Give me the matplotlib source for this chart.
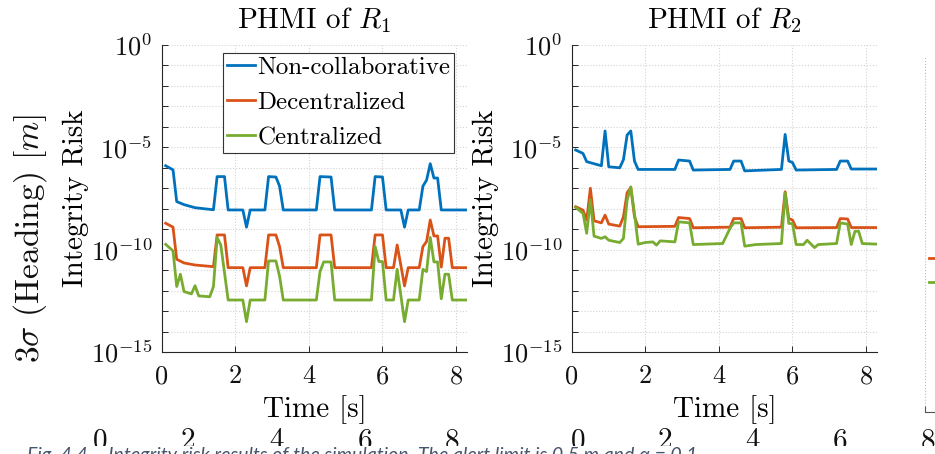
import matplotlib
matplotlib.use('Agg')
import matplotlib.pyplot as plt
from matplotlib.patches import Rectangle
import numpy as np

plt.rcParams['font.family'] = 'serif'
plt.rcParams['font.serif'] = ['cmr10', 'DejaVu Serif']
plt.rcParams['mathtext.fontset'] = 'cm'
plt.rcParams['axes.unicode_minus'] = False

# ---- data (log10 of integrity risk) ----
series_names = ['Non-collaborative', 'Decentralized', 'Centralized']
colors = ['#0072BD', '#D95319', '#77AC30']

t_r1_non = [0.1, 0.3, 0.4, 0.6, 0.9, 1.4, 1.5, 1.7, 1.8, 2.2, 2.3, 2.4, 2.8, 2.9, 3.1, 3.2,
            3.3, 4.2, 4.3, 4.6, 4.7, 5.7, 5.8, 6.0, 6.1, 6.5, 6.6, 6.7, 7.0, 7.1, 7.2, 7.3,
            7.4, 7.5, 7.6, 8.3]
lg_r1_non = [-5.9, -6.1, -7.65, -7.8, -7.95, -8.05, -6.43, -6.43, -8.06, -8.06, -8.9, -8.06,
             -8.06, -6.43, -6.45, -6.9, -8.06, -8.06, -6.43, -6.45, -8.06, -8.06, -6.43, -6.45,
             -8.06, -8.06, -8.9, -8.06, -8.06, -6.9, -6.6, -5.8, -6.5, -6.5, -8.06, -8.06]

t_r1_dec = [0.1, 0.3, 0.4, 0.6, 0.9, 1.4, 1.5, 1.7, 1.8, 2.2, 2.3, 2.4, 2.8, 2.9, 3.1, 3.2,
            3.3, 4.2, 4.3, 4.6, 4.7, 5.7, 5.8, 6.0, 6.1, 6.3, 6.4, 6.6, 6.7, 7.0, 7.1, 7.2,
            7.3, 7.4, 7.5, 7.6, 7.7, 7.8, 7.9, 8.3]
lg_r1_dec = [-8.71, -8.9, -10.47, -10.65, -10.75, -10.83, -9.28, -9.28, -10.88, -10.88, -11.77,
             -10.88, -10.88, -9.28, -9.28, -9.85, -10.88, -10.88, -9.28, -9.28, -10.88, -10.88,
             -9.28, -9.28, -10.88, -10.88, -9.77, -11.77, -10.88, -10.88, -9.85, -9.6, -8.55,
             -9.33, -9.33, -10.85, -9.44, -9.44, -10.88, -10.88]

t_r1_cen = [0.1, 0.3, 0.4, 0.5, 0.6, 0.8, 0.9, 1.0, 1.3, 1.4, 1.5, 1.6, 1.8, 2.2, 2.3, 2.4,
            2.8, 2.9, 3.1, 3.2, 3.3, 4.2, 4.3, 4.4, 4.6, 4.7, 5.7, 5.8, 5.9, 6.0, 6.1, 6.3,
            6.4, 6.6, 6.7, 7.0, 7.1, 7.2, 7.3, 7.4, 7.5, 7.6, 7.7, 7.8, 7.9, 8.3]
lg_r1_cen = [-9.74, -10.06, -11.8, -11.2, -12.05, -12.16, -11.76, -12.26, -12.3, -11.8, -9.41,
             -9.77, -12.46, -12.46, -13.52, -12.46, -12.46, -10.55, -10.55, -11.3, -12.46,
             -12.46, -11.07, -10.6, -10.6, -12.46, -12.46, -9.85, -10.58, -10.58, -12.46,
             -12.46, -10.96, -13.52, -12.46, -12.46, -10.96, -11.07, -9.4, -10.6, -10.6,
             -12.4, -11.2, -11.2, -12.46, -12.46]

t_r2_non = [0.1, 0.3, 0.4, 0.8, 0.9, 1.0, 1.3, 1.4, 1.5, 1.6, 1.7, 1.8, 2.8, 2.9, 3.2, 3.3,
            4.3, 4.4, 4.6, 4.7, 5.7, 5.8, 5.9, 6.0, 6.1, 7.2, 7.3, 7.5, 7.6, 8.3]
lg_r2_non = [-5.13, -5.3, -5.7, -5.9, -4.2, -5.95, -6.0, -5.6, -4.4, -4.2, -5.67, -6.08, -6.08,
             -5.62, -5.67, -6.11, -6.08, -5.67, -5.67, -6.15, -6.08, -4.37, -5.67, -5.74,
             -6.11, -6.08, -5.67, -5.67, -6.06, -6.06]

t_r2_dec = [0.1, 0.3, 0.4, 0.5, 0.6, 0.8, 0.9, 1.0, 1.3, 1.4, 1.5, 1.6, 1.7, 1.8, 2.8, 2.9,
            3.2, 3.3, 4.3, 4.4, 4.6, 4.7, 5.7, 5.8, 5.9, 6.0, 6.1, 7.2, 7.3, 7.5, 7.6, 8.3]
lg_r2_dec = [-7.9, -8.07, -8.56, -7.0, -8.59, -8.69, -8.31, -8.75, -8.85, -8.39, -7.22, -6.96,
             -8.39, -8.88, -8.86, -8.43, -8.48, -8.93, -8.9, -8.48, -8.48, -8.93, -8.9, -7.17,
             -8.48, -8.55, -8.93, -8.92, -8.48, -8.5, -8.92, -8.92]

t_r2_cen = [0.1, 0.3, 0.4, 0.5, 0.6, 0.8, 0.9, 1.0, 1.3, 1.4, 1.5, 1.6, 1.7, 1.8, 2.0, 2.2,
            2.3, 2.4, 2.8, 2.9, 3.2, 3.3, 4.1, 4.3, 4.4, 4.6, 4.7, 5.0, 5.7, 5.8, 5.9, 6.0,
            6.1, 6.3, 6.4, 6.6, 6.7, 7.2, 7.3, 7.5, 7.6, 7.7, 7.8, 7.9, 8.3]
lg_r2_cen = [-7.94, -8.23, -9.2, -7.55, -9.34, -9.45, -9.37, -9.54, -9.65, -9.45, -7.58, -6.93,
             -8.23, -9.73, -9.65, -9.62, -9.78, -9.57, -9.62, -8.64, -8.69, -9.75, -9.7, -8.96,
             -8.69, -8.69, -9.83, -9.75, -9.7, -7.22, -8.72, -8.72, -9.75, -9.75, -9.54, -9.9,
             -9.75, -9.7, -8.69, -8.75, -9.75, -9.1, -9.1, -9.7, -9.73]

# stub of the next (cut-off) panel at the right edge
t_r3 = [0.1, 1.0]
lg_r3_dec = [-8.5, -8.5]
lg_r3_cen = [-9.5, -9.5]

titles = [r'PHMI of $R_1$', r'PHMI of $R_2$']
ytick_exp = [0, -5, -10, -15]
xticks = [0, 2, 4, 6, 8]
below_ticks = ['0', '2', '4', '6', '8']
caption = ('Fig. 4.4 \u2013 Integrity risk results of the simulation. '
           'The alert limit is 0.5 m and \u03b1 = 0.1')

panels = [
    [(t_r1_non, lg_r1_non), (t_r1_dec, lg_r1_dec), (t_r1_cen, lg_r1_cen)],
    [(t_r2_non, lg_r2_non), (t_r2_dec, lg_r2_dec), (t_r2_cen, lg_r2_cen)],
]

W, H = 935, 454
fig = plt.figure(figsize=(W / 100, H / 100), dpi=100)
fig.patch.set_facecolor('white')


def style_axes(ax):
    ax.set_yscale('log')
    ax.set_ylim(1e-15, 1)
    ax.set_xlim(0, 8.3)
    for s in ['top', 'right']:
        ax.spines[s].set_visible(False)
    for s in ['left', 'bottom']:
        ax.spines[s].set_color('#262626')
        ax.spines[s].set_linewidth(0.8)
    ax.set_yticks([10.0 ** e for e in range(-15, 1)])
    ax.set_yticklabels([r'$10^{%d}$' % e if e in ytick_exp else '' for e in range(-15, 1)])
    ax.yaxis.set_minor_locator(matplotlib.ticker.NullLocator())
    ax.set_xticks(xticks)
    ax.set_xticklabels([str(v) for v in xticks])
    ax.tick_params(direction='in', length=4, width=0.7, color='#262626',
                   labelsize=19, labelcolor='#111111')
    ax.tick_params(axis='x', pad=9)
    ax.tick_params(axis='y', pad=7)
    ax.grid(True, linestyle=':', color='#d4d4d4', linewidth=0.8)
    ax.set_axisbelow(True)


lefts = [162, 572]
for i, left in enumerate(lefts):
    ax = fig.add_axes([left / W, (H - 352) / H, 305 / W, 307 / H])
    style_axes(ax)
    for (t, lg), c, name in zip(panels[i], colors, series_names):
        ax.plot(t, 10.0 ** np.array(lg), color=c, lw=2.0, label=name)
    ax.set_title(titles[i], fontsize=21, pad=12)
    ax.set_ylabel('Integrity Risk', fontsize=21)
    ax.yaxis.set_label_coords(-0.24, 0.5)
    ax.set_xlabel('Time [s]', fontsize=21)
    ax.xaxis.set_label_coords(0.5, -0.14)
    if i == 0:
        leg = ax.legend(loc='upper right', bbox_to_anchor=(0.957, 0.974), borderaxespad=0,
                        fontsize=18, handlelength=1.1, handletextpad=0.1, labelspacing=0.5,
                        borderpad=0.15, fancybox=False, framealpha=1)
        leg.get_frame().set_edgecolor('#333333')
        leg.get_frame().set_linewidth(0.8)

# partial third panel cut by the right edge
ax3 = fig.add_axes([925 / W, (H - 412) / H, 305 / W, 355 / H])
ax3.set_yscale('log')
ax3.set_ylim(1e-15, 1)
ax3.set_xlim(0, 8.3)
for s in ['top', 'right', 'left']:
    ax3.spines[s].set_visible(False)
ax3.spines['bottom'].set_color('#555555')
ax3.set_xticks([0])
ax3.set_xticklabels([''])
ax3.set_yticks([])
ax3.tick_params(direction='in', length=4, color='#555555')
ax3.grid(True, axis='x', linestyle=':', color='#bbbbbb', linewidth=0.8)
ax3.plot(t_r3, 10.0 ** np.array(lg_r3_dec), color=colors[1], lw=2.0)
ax3.plot(t_r3, 10.0 ** np.array(lg_r3_cen), color=colors[2], lw=2.0)

# side label of the neighbouring figure
fig.text(30 / W, 1 - 238 / H, r'$3\sigma$ (Heading) $[m]$', rotation=90, fontsize=24,
         ha='center', va='center', color='#111111')

# tick labels of the row below, cut by the caption
below_x = [100, 188, 277, 365, 452, 578, 665, 752, 840, 928]
for k, xpos in enumerate(below_x):
    fig.text(xpos / W, 1 - 428 / H, below_ticks[k % 5], fontsize=21, ha='center', va='top',
             color='#111111', zorder=1)
fig.patches.append(Rectangle((0, 0), 1, (H - 446) / H, transform=fig.transFigure,
                             facecolor='white', edgecolor='none', zorder=2))
fig.text(27 / W, 1 - 461 / H, caption, fontsize=14, style='italic', family='Lato',
         color='#44546A', ha='left', va='baseline', zorder=3)

fig.savefig('out.png', dpi=100)
